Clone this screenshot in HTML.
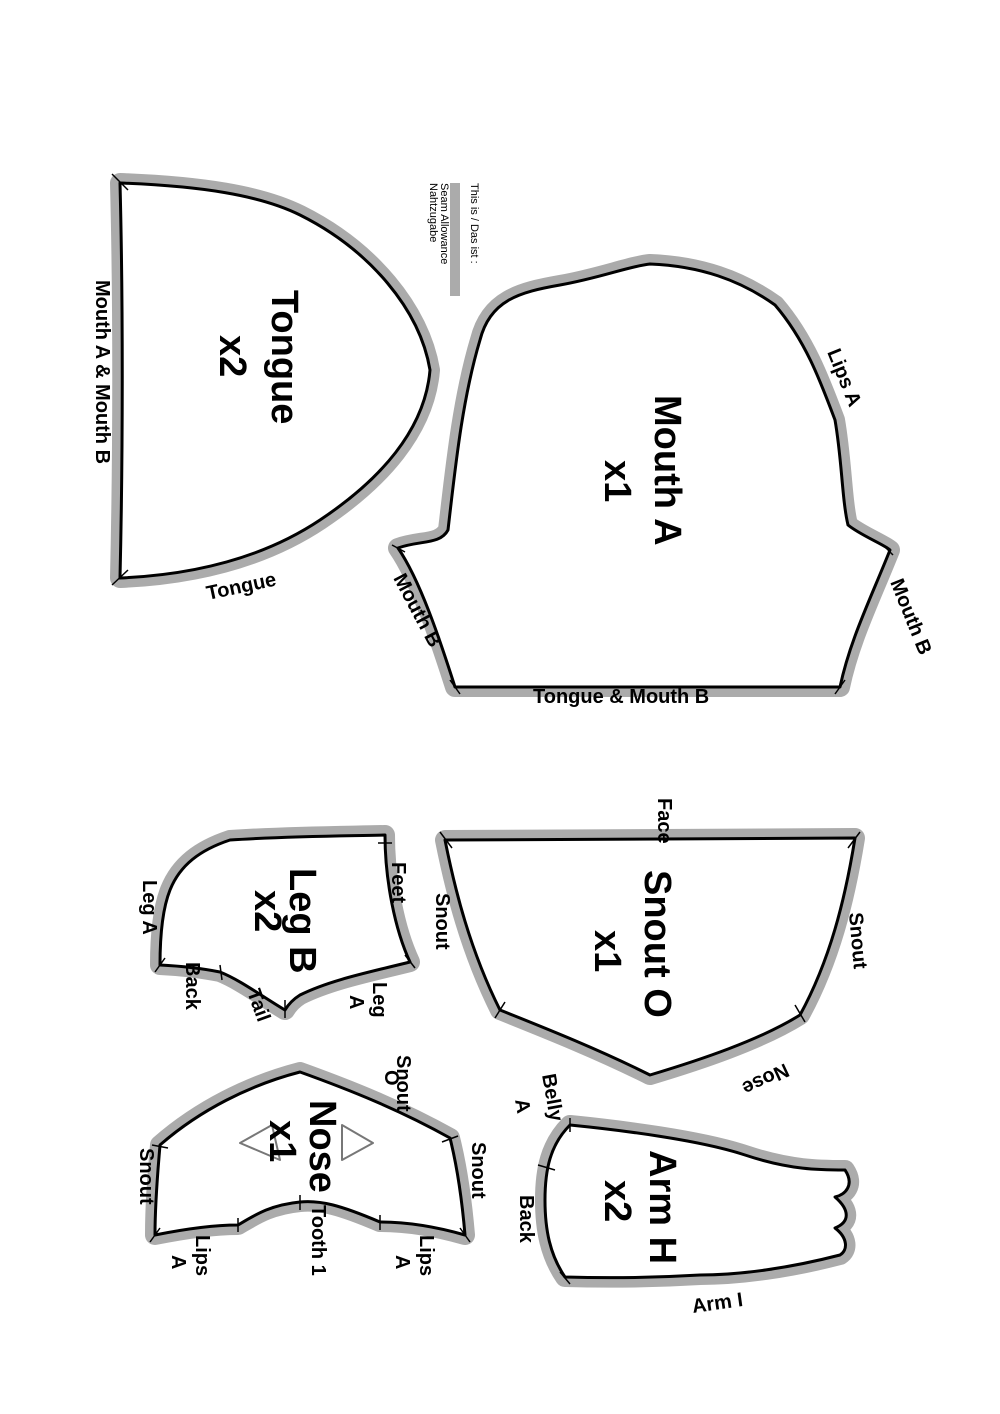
<!DOCTYPE html>
<html><head><meta charset="utf-8"><style>
html,body{margin:0;padding:0;background:#fff;}
svg{display:block;}
text{font-family:"Liberation Sans",sans-serif;fill:#000;}
.g{fill:#fff;stroke:#ababab;stroke-width:20;stroke-linejoin:round;}
.b{fill:#fff;stroke:#000;stroke-width:3;stroke-linejoin:round;}
.big{font-size:38px;font-weight:bold;}
.lab{font-size:20px;font-weight:bold;}
.sm{font-size:11px;}
.t{stroke:#000;stroke-width:1.5;}
</style></head><body>
<svg width="1000" height="1414" viewBox="0 0 1000 1414">
<defs>
<path id="tongue" d="M120,183 C200,186 260,195 300,215 C370,250 420,310 430,370 C425,430 380,480 320,520 C260,560 190,575 120,578 C123,450 123,300 120,183 Z"/>
<path id="mouth" d="M398,548 C420,540 440,545 448,530 C455,470 462,400 480,340 C490,300 520,292 560,285 C600,278 630,266 650,264 C700,266 740,280 775,305 C805,340 820,380 835,420 C842,460 842,500 848,525 C860,535 885,545 890,550 C870,600 850,640 840,687 L455,687 C440,640 420,580 398,548 Z"/>
<path id="snout" d="M445,840 C600,838 750,838 855,838 C845,900 830,960 800,1015 C760,1040 700,1060 650,1075 C600,1050 550,1030 500,1010 C470,950 455,890 445,840 Z"/>
<path id="leg" d="M160,965 C160,940 162,910 170,890 C180,865 200,850 230,840 C290,836 340,836 385,835 C385,880 395,930 410,962 C370,972 330,980 300,995 C292,1000 288,1005 285,1010 C260,995 240,980 220,972 C200,968 180,966 160,965 Z"/>
<path id="nose" d="M160,1145 C200,1110 250,1085 300,1072 C350,1090 400,1110 450,1138 C458,1170 462,1200 465,1235 C430,1225 400,1222 380,1222 C340,1205 320,1200 300,1202 C270,1205 255,1215 238,1225 C210,1225 180,1230 155,1235 C155,1200 158,1170 160,1145 Z"/>
<path id="arm" d="M570,1125 C620,1130 700,1140 745,1155 C790,1170 820,1170 845,1170 C855,1185 845,1195 835,1197 C850,1210 850,1222 835,1228 C848,1238 848,1250 840,1255 C790,1268 740,1275 700,1275 C650,1278 600,1278 565,1277 C550,1255 545,1230 545,1200 C545,1170 550,1145 570,1125 Z"/>
</defs>
<g>
<use href="#tongue" class="g"/><use href="#tongue" class="b"/>
<use href="#mouth" class="g"/><use href="#mouth" class="b"/>
<use href="#snout" class="g"/><use href="#snout" class="b"/>
<use href="#leg" class="g"/><use href="#leg" class="b"/>
<use href="#nose" class="g"/><use href="#nose" class="b"/>
<use href="#arm" class="g"/><use href="#arm" class="b"/>
</g>
<!-- tick marks -->
<g class="t">
<line x1="112" y1="174" x2="128" y2="190"/><line x1="112" y1="585" x2="128" y2="570"/>
<line x1="392" y1="545" x2="405" y2="552"/><line x1="883" y1="545" x2="893" y2="555"/>
<line x1="450" y1="680" x2="460" y2="694"/><line x1="835" y1="694" x2="845" y2="680"/>
<line x1="440" y1="832" x2="452" y2="848"/><line x1="848" y1="848" x2="860" y2="832"/>
<line x1="495" y1="1018" x2="505" y2="1002"/><line x1="795" y1="1005" x2="805" y2="1022"/>
<line x1="155" y1="972" x2="165" y2="958"/><line x1="378" y1="843" x2="392" y2="843"/>
<line x1="405" y1="955" x2="415" y2="968"/><line x1="285" y1="1000" x2="285" y2="1018"/>
<line x1="220" y1="965" x2="222" y2="980"/>
<line x1="152" y1="1145" x2="168" y2="1148"/><line x1="442" y1="1142" x2="458" y2="1136"/>
<line x1="150" y1="1242" x2="160" y2="1228"/><line x1="460" y1="1228" x2="470" y2="1242"/>
<line x1="238" y1="1218" x2="238" y2="1232"/><line x1="380" y1="1215" x2="380" y2="1230"/>
<line x1="300" y1="1195" x2="300" y2="1210"/>
<line x1="570" y1="1118" x2="570" y2="1132"/><line x1="538" y1="1165" x2="555" y2="1170"/>
<line x1="560" y1="1272" x2="570" y2="1284"/>
</g>
<!-- nose triangles -->
<path d="M240,1143 L272,1125 L280,1160 Z" fill="none" stroke="#777" stroke-width="2" stroke-linejoin="round"/>
<path d="M342,1125 L373,1143 L342,1160 Z" fill="none" stroke="#777" stroke-width="2" stroke-linejoin="round"/>
<!-- legend -->
<rect x="450" y="183" width="10" height="113" fill="#ababab"/>
<text class="sm" transform="translate(471,183) rotate(90)">This is / Das ist :</text>
<text class="sm" font-size="9" transform="translate(441,183) rotate(90)">Seam Allowance</text>
<text class="sm" font-size="9" transform="translate(430,183) rotate(90)">Nahtzugabe</text>
<!-- big labels -->
<text class="big" transform="translate(272,290) rotate(90)">Tongue</text>
<text class="big" transform="translate(220,335) rotate(90)">x2</text>
<text class="big" transform="translate(655,395) rotate(90)">Mouth A</text>
<text class="big" transform="translate(605,460) rotate(90)">x1</text>
<text class="big" transform="translate(645,870) rotate(90)">Snout O</text>
<text class="big" transform="translate(595,930) rotate(90)">x1</text>
<text class="big" font-size="30" transform="translate(290,868) rotate(90)">Leg B</text>
<text class="big" font-size="30" transform="translate(255,890) rotate(90)">x2</text>
<text class="big" transform="translate(310,1100) rotate(90)">Nose</text>
<text class="big" font-size="30" transform="translate(270,1120) rotate(90)">x1</text>
<text class="big" transform="translate(650,1150) rotate(90)">Arm H</text>
<text class="big" font-size="32" transform="translate(605,1180) rotate(90)">x2</text>
<!-- edge labels -->
<text class="lab" font-size="17" transform="translate(96,280) rotate(90)">Mouth A &amp; Mouth B</text>
<text class="lab" transform="translate(208,600) rotate(-12)">Tongue</text>
<text class="lab" transform="translate(827,352) rotate(68)">Lips A</text>
<text class="lab" transform="translate(890,582) rotate(68)">Mouth B</text>
<text class="lab" transform="translate(393,578) rotate(62)">Mouth B</text>
<text class="lab" transform="translate(533,703)">Tongue &amp; Mouth B</text>
<text class="lab" transform="translate(658,798) rotate(90)">Face</text>
<text class="lab" transform="translate(436,893) rotate(90)">Snout</text>
<text class="lab" transform="translate(849,913) rotate(85)">Snout</text>
<text class="lab" transform="translate(785,1063) rotate(155)">Nose</text>
<text class="lab" transform="translate(143,880) rotate(90)">Leg A</text>
<text class="lab" transform="translate(392,862) rotate(90)">Feet</text>
<text class="lab" transform="translate(186,962) rotate(90)">Back</text>
<text class="lab" transform="translate(247,992) rotate(70)">Tail</text>
<text class="lab" transform="translate(373,982) rotate(90)">Leg</text>
<text class="lab" transform="translate(350,995) rotate(90)">A</text>
<text class="lab" font-size="12" transform="translate(397,1055) rotate(90)">Snout</text>
<text class="lab" font-size="12" transform="translate(385,1070) rotate(90)">O</text>
<text class="lab" transform="translate(140,1148) rotate(90)">Snout</text>
<text class="lab" transform="translate(472,1142) rotate(90)">Snout</text>
<text class="lab" transform="translate(196,1235) rotate(90)">Lips</text>
<text class="lab" transform="translate(172,1255) rotate(90)">A</text>
<text class="lab" transform="translate(312,1205) rotate(90)">Tooth 1</text>
<text class="lab" transform="translate(420,1235) rotate(90)">Lips</text>
<text class="lab" transform="translate(396,1255) rotate(90)">A</text>
<text class="lab" transform="translate(542,1075) rotate(80)">Belly</text>
<text class="lab" transform="translate(515,1100) rotate(80)">A</text>
<text class="lab" transform="translate(520,1195) rotate(90)">Back</text>
<text class="lab" transform="translate(693,1313) rotate(-8)">Arm I</text>
</svg>
</body></html>
